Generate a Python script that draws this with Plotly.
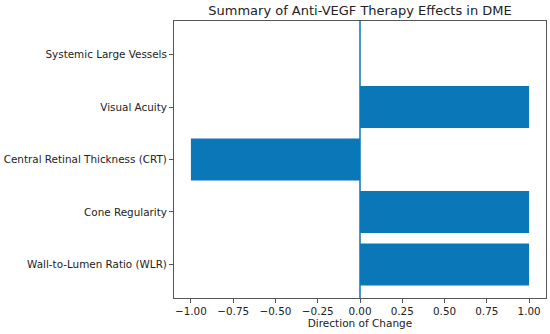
import plotly.graph_objects as go

categories = ["Wall-to-Lumen Ratio (WLR)", "Cone Regularity", "Central Retinal Thickness (CRT)",
              "Visual Acuity", "Systemic Large Vessels"]
values = [1, 1, -1, 1, 0]
x_ticks = [-1.0, -0.75, -0.5, -0.25, 0.0, 0.25, 0.5, 0.75, 1.0]

font = "DejaVu Sans"
blue = "#0a77b8"
fig = go.Figure()
fig.add_trace(go.Bar(x=values, y=categories, orientation="h",
                     marker=dict(color=blue, line=dict(width=0)),
                     width=0.8))
fig.add_shape(type="line", x0=0, x1=0, xref="x", y0=0, y1=1, yref="paper",
              line=dict(color=blue, width=1.5))
fig.update_layout(
    width=550, height=334,
    margin=dict(l=174, r=4, t=21, b=36),
    paper_bgcolor="white", plot_bgcolor="white",
    showlegend=False,
    font=dict(family=font, size=10.4, color="#222"),
    title=dict(text="Summary of Anti-VEGF Therapy Effects in DME", x=0.5, xref="paper",
               xanchor="center", y=1 - 10 / 334, yref="container", yanchor="middle",
               font=dict(size=13, color="#222")),
)
fig.update_xaxes(range=[-1.1, 1.1], tickvals=x_ticks, tickformat=".2f", automargin=False,
                 showgrid=False, zeroline=False, showline=True, mirror=True,
                 linecolor="#555", linewidth=1, ticks="outside", ticklen=4,
                 tickcolor="#555", title=dict(text="Direction of Change", standoff=2,
                                               font=dict(size=10.5)))
fig.update_yaxes(type="category", categoryorder="array", categoryarray=categories, automargin=False,
                 range=[-0.64, 4.64], showgrid=False, zeroline=False, showline=True,
                 mirror=True, linecolor="#555", linewidth=1, ticks="outside", ticklen=4,
                 tickcolor="#555")
fig.write_html("out.html", config={"displayModeBar": False},
               post_script="document.body.style.margin='0px';document.body.style.overflow='hidden';")
